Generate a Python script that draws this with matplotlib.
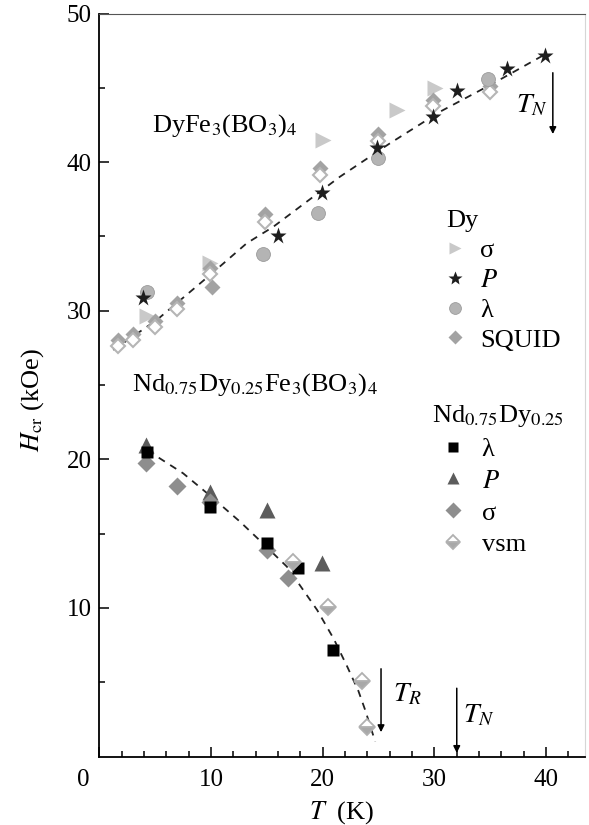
import matplotlib
matplotlib.use("Agg")
import matplotlib.pyplot as plt
import matplotlib.transforms as mtransforms

plt.rcParams['font.family'] = ['Liberation Serif', 'DejaVu Serif']
plt.rcParams['mathtext.fontset'] = 'stix'

# === DyFe3(BO3)4 ===
dy_sigma_T = [4.24, 9.91, 20.05, 26.62, 30.05]
dy_sigma_H = [29.64, 33.19, 41.49, 43.5, 44.97]

dy_P_T = [3.94, 16.03, 19.91, 24.83, 29.9, 32.0, 36.47, 39.9]
dy_P_H = [30.83, 35.06, 37.9, 40.93, 43.01, 44.8, 46.24, 47.14]

dy_lam_T = [4.24, 14.68, 19.61, 24.98, 34.83]
dy_lam_H = [31.28, 33.82, 36.6, 40.26, 45.57]

dy_squid_T = [1.70, 3.04, 4.99, 6.93, 9.91, 10.06, 14.83, 19.76, 24.98, 29.9, 34.98]
dy_squid_H = [28.0, 28.4, 29.3, 30.5, 32.9, 31.6, 36.5, 39.6, 41.9, 44.2, 45.1]
# contours creux sous les losanges SQUID
dy_open_T = [1.70, 3.04, 4.99, 6.93, 9.91, 14.83, 19.76, 24.98, 29.9, 34.98]
dy_open_H = [27.6, 28.0, 28.9, 30.1, 32.5, 36.0, 39.1, 41.4, 43.8, 44.7]

dy_fit_T = [1.25, 5.14, 9.91, 13.2, 15.58, 21.55, 26.03, 30.5, 35.27, 39.9]
dy_fit_H = [27.36, 29.37, 32.4, 34.54, 35.65, 39.02, 41.27, 43.39, 45.3, 47.25]

# === Nd0.75Dy0.25Fe3(BO3)4 ===
nd_lam_T = [4.24, 9.91, 14.99, 17.82, 20.95]
nd_lam_H = [20.51, 16.81, 14.35, 12.66, 7.17]

nd_P_T = [4.19, 9.91, 14.99, 19.91]
nd_P_H = [20.94, 17.82, 16.59, 13.0]

nd_sigma_T = [4.19, 6.93, 9.91, 14.99, 16.92]
nd_sigma_H = [19.72, 18.2, 17.15, 13.9, 11.99]

nd_vsm_T = [17.37, 20.5, 23.49, 23.94]
nd_vsm_H = [13.1, 10.08, 5.1, 2.0]

nd_fit_T = [4.3, 7.5, 10, 12.6, 14.8, 16.8, 19.5, 21.0, 22.2, 23.2, 23.8, 24.7]
nd_fit_H = [20.6, 19.06, 17.5, 15.8, 14.23, 12.77, 9.86, 7.9, 6.04, 4.4, 3.13, 1.0]

fig = plt.figure(figsize=(5.89, 8.25), dpi=100)
ax = fig.add_axes([99.3/589, 68.5/825, 485.7/589, 743/825])

dash = dict(color='#222222', lw=1.3, linestyle=(0, (4, 3.5)), zorder=1)
ax.plot(dy_fit_T, dy_fit_H, **dash)
ax.plot(nd_fit_T, nd_fit_H, **dash)

# Dy
h_sig, = ax.plot(dy_sigma_T, dy_sigma_H, '>', color='#c9c9c9', ms=11, mec='none', label='σ', zorder=2)
h_squid, = ax.plot(dy_squid_T, dy_squid_H, 'D', color='#a3a3a3', ms=8, mec='none', label='SQUID', zorder=3)
ax.plot(dy_open_T, dy_open_H, 'D', mfc='white', mec='#b5b5b5', mew=1.5, ms=7, zorder=3)
h_lam, = ax.plot(dy_lam_T, dy_lam_H, 'o', color='#b4b4b4', ms=10, mec='#9c9c9c', mew=0.6, label='λ', zorder=4)
h_P, = ax.plot(dy_P_T, dy_P_H, '*', color='#1e1e1e', ms=12.5, mec='none', label='$P$', zorder=5)

# Nd
n_sig, = ax.plot(nd_sigma_T, nd_sigma_H, 'D', color='#8e8e8e', ms=9, mec='none', label='σ', zorder=3)
n_P, = ax.plot(nd_P_T, nd_P_H, '^', color='#5c5c5c', ms=11, mec='none', label='$P$', zorder=2)
n_lam, = ax.plot(nd_lam_T, nd_lam_H, 's', color='black', ms=9, mec='none', label='λ', zorder=4)
n_vsm, = ax.plot(nd_vsm_T, nd_vsm_H, 'D', ms=8, mfc='#a8a8a8', mfcalt='white', fillstyle='bottom',
                 mec='#b0b0b0', mew=1.3, label='vsm', zorder=5)

ax.set_xlim(0, 43.48)
ax.set_ylim(0, 50)
ax.set_xticks([0, 10, 20, 30, 40])
ax.set_xticks(range(2, 44, 2), minor=True)
ax.set_yticks([10, 20, 30, 40, 50])
ax.set_yticks([5, 15, 25, 35, 45], minor=True)
ax.tick_params(which='both', direction='in', labelsize=18, width=1.1)
ax.tick_params(which='major', length=7)
ax.tick_params(which='minor', length=4.5)
ax.tick_params(axis='x', pad=9)
ax.tick_params(axis='y', pad=5.5)
for s in ['left', 'bottom']:
    ax.spines[s].set_linewidth(1.3)
ax.spines['top'].set_color('#555555')
ax.spines['right'].set_color('#d6d6d6')

# étiquette "0" décalée vers la gauche comme l'original
lab0 = ax.get_xticklabels()[0]
lab0.set_transform(lab0.get_transform() + mtransforms.ScaledTranslation(-0.16, 0, fig.dpi_scale_trans))

ax.set_xlabel('$T$  (K)', fontsize=19, labelpad=6)
ax.set_ylabel('$H_{\\rm cr}$ (kOe)', fontsize=19)
ax.yaxis.set_label_coords(-0.11, 0.48)

ax.text(4.71, 42.45, 'DyFe$_3$(BO$_3$)$_4$', fontsize=19, va='center')
ax.text(2.89, 25.0, 'Nd$_{0.75}$Dy$_{0.25}$Fe$_3$(BO$_3$)$_4$', fontsize=19, va='center')

arr = dict(arrowstyle='-|>', color='black', lw=1.1, mutation_scale=10)
ax.annotate('', xy=(40.6, 41.7), xytext=(40.6, 46.2), arrowprops=arr)
ax.annotate('', xy=(25.22, 1.45), xytext=(25.22, 6.09), arrowprops=arr)
ax.annotate('', xy=(32.0, 0.05), xytext=(32.0, 4.78), arrowprops=arr)
ax.text(40.1, 43.8, '$T_N$', fontsize=20, ha='right', va='center')
ax.text(26.3, 4.14, '$T_R$', fontsize=20, ha='left', va='center')
ax.text(32.55, 2.73, '$T_N$', fontsize=20, ha='left', va='center')

leg1 = ax.legend(handles=[h_sig, h_P, h_lam, h_squid], title='Dy', loc='upper left',
                 bbox_to_anchor=(0.715, 0.735), frameon=False, fontsize=19, title_fontsize=19,
                 handlelength=0.63, handletextpad=0.63, labelspacing=0.24, borderpad=0,
                 borderaxespad=0, alignment='left', markerscale=0.85)
ax.add_artist(leg1)
ax.legend(handles=[n_lam, n_P, n_sig, n_vsm], title='Nd$_{0.75}$Dy$_{0.25}$', loc='upper left',
          bbox_to_anchor=(0.684, 0.476), frameon=False, fontsize=19, title_fontsize=19,
          handlelength=1.61, handletextpad=0.29, labelspacing=0.32, borderpad=0,
          borderaxespad=0, alignment='left', markerscale=0.85)

fig.savefig('out.png', dpi=100)
